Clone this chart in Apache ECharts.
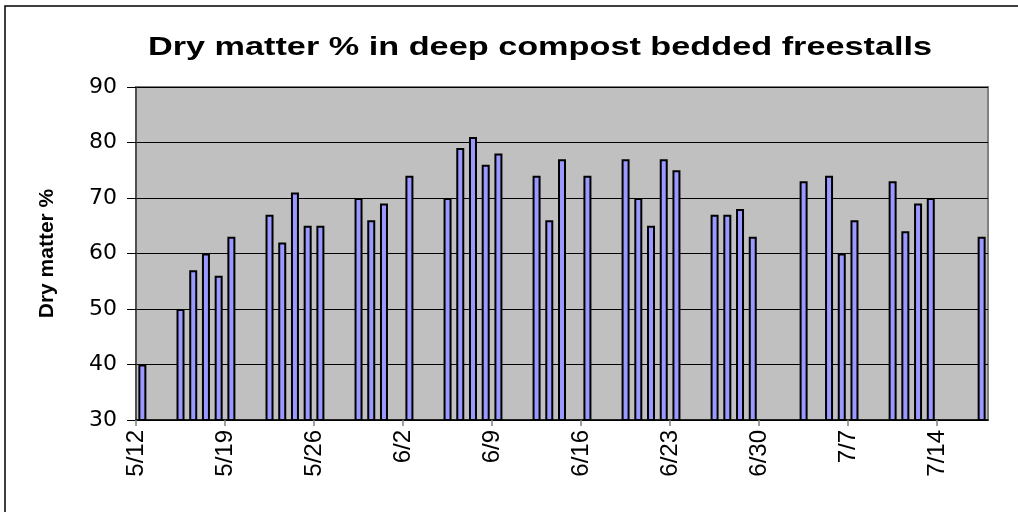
<!DOCTYPE html>
<html>
<head>
<meta charset="utf-8">
<script src="https://cdn.jsdelivr.net/npm/echarts@6/dist/echarts.min.js"></script>
<style>
  html, body { margin: 0; padding: 0; background: #fff; }
  #chart { width: 1018px; height: 512px; }
</style>
</head>
<body>
<div id="chart"></div>
<script>
// sampling dates (M/D) and measured dry matter %
const sampleDates = ['5/12', '5/15', '5/16', '5/17', '5/18', '5/19', '5/22', '5/23', '5/24', '5/25', '5/26',
  '5/29', '5/30', '5/31', '6/2', '6/5', '6/6', '6/7', '6/8', '6/9', '6/12', '6/13', '6/14', '6/16',
  '6/19', '6/20', '6/21', '6/22', '6/23', '6/26', '6/27', '6/28', '6/29', '7/3', '7/5', '7/6', '7/7',
  '7/10', '7/11', '7/12', '7/13', '7/17'];
const dryMatter = [40, 50, 57, 60, 56, 63, 67, 62, 71, 65, 65,
  70, 66, 69, 74, 70, 79, 81, 76, 78, 74, 66, 77, 74,
  77, 70, 65, 77, 75, 67, 67, 68, 63, 73, 74, 60, 66,
  73, 64, 69, 70, 63];
const tickLabels = ['5/12', '5/19', '5/26', '6/2', '6/9', '6/16', '6/23', '6/30', '7/7', '7/14'];
const yTicks = [30, 40, 50, 60, 70, 80, 90];

// one category per day, 5/12 .. 7/18
const days = [];
for (let i = 0; i <= 67; i++) {
  const d = new Date(2006, 4, 12 + i);
  days.push((d.getMonth() + 1) + '/' + d.getDate());
}
const lookup = {};
sampleDates.forEach((d, i) => { lookup[d] = dryMatter[i]; });
const barData = days.slice(0, 67).map(d => (d in lookup ? lookup[d] : '-'));

const chart = echarts.init(document.getElementById('chart'));
const option = {
  animation: false,
  graphic: [
    {
      type: 'rect',
      shape: { x: 5, y: 6, width: 1100, height: 600 },
      style: { fill: 'none', stroke: '#000', lineWidth: 1.5 },
      silent: true
    },
    {
      type: 'text',
      x: 540, y: 48,
      scaleX: 1.37,
      style: {
        text: 'Dry matter % in deep compost bedded freestalls',
        font: 'bold 25px "Liberation Sans", Arial, sans-serif',
        fill: '#000',
        align: 'center',
        verticalAlign: 'middle'
      },
      silent: true
    }
  ],
  grid: {
    left: 136, right: 30, top: 87, bottom: 92,
    show: true,
    backgroundColor: '#c0c0c0',
    borderColor: '#808080',
    borderWidth: 2
  },
  xAxis: [
    {
      type: 'category',
      data: days.slice(0, 67),
      boundaryGap: true,
      axisLine: { show: false },
      axisTick: { show: false },
      axisLabel: { show: false }
    },
    {
      type: 'category',
      data: days,
      position: 'bottom',
      boundaryGap: false,
      axisLine: { show: true, onZero: false, lineStyle: { color: '#000', width: 1.5 } },
      axisTick: { show: true, interval: 6, length: 6, lineStyle: { color: '#808080', width: 1.5 } },
      axisLabel: {
        interval: 6,
        rotate: 90,
        margin: 10,
        color: '#000',
        fontSize: 24,
        fontFamily: '"Liberation Sans", Arial, sans-serif',
        formatter: v => (tickLabels.includes(v) ? v : '')
      },
      splitLine: { show: false }
    }
  ],
  yAxis: {
    type: 'value',
    min: yTicks[0],
    max: yTicks[yTicks.length - 1],
    interval: 10,
    name: 'Dry matter %',
    nameLocation: 'middle',
    nameRotate: 90,
    nameGap: 78,
    nameTextStyle: {
      fontSize: 21,
      fontWeight: 'bold',
      color: '#000',
      fontFamily: '"Liberation Sans", Arial, sans-serif'
    },
    axisLine: { show: true, lineStyle: { color: '#404040', width: 1.5 } },
    axisTick: { show: true, length: 9, lineStyle: { color: '#000', width: 1 } },
    axisLabel: {
      margin: 19,
      color: '#000',
      fontSize: 22,
      fontFamily: '"DejaVu Sans", sans-serif'
    },
    splitLine: { show: true, lineStyle: { color: '#000', width: 1 } }
  },
  series: [
    {
      name: 'Dry matter %',
      type: 'bar',
      xAxisIndex: 0,
      data: barData,
      barWidth: 8,
      itemStyle: { color: '#9999ff', borderColor: '#000', borderWidth: 2 }
    }
  ]
};
chart.setOption(option);
</script>
</body>
</html>
